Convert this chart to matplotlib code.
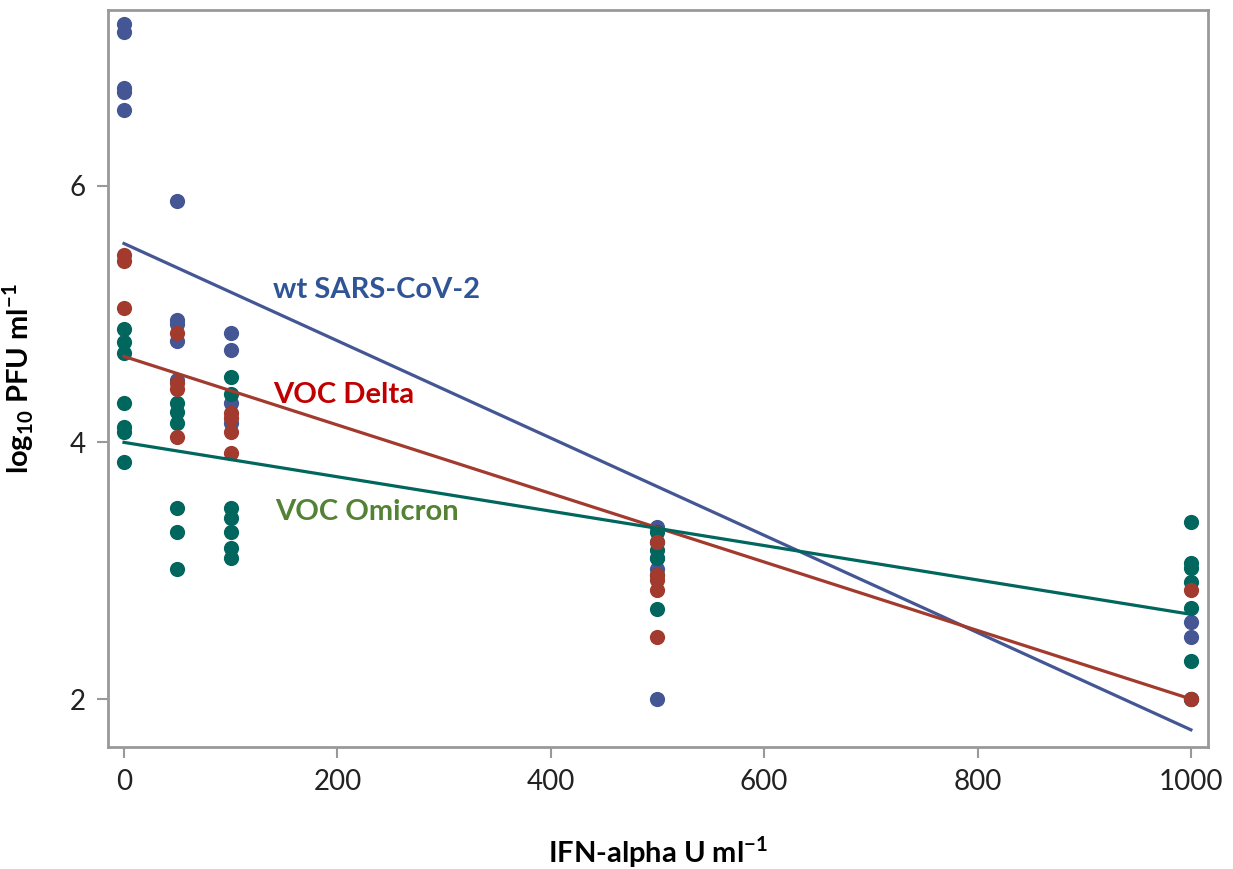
import matplotlib
matplotlib.use("Agg")
import matplotlib.pyplot as plt
import numpy as np

# ---- data ----
wt_x = [0, 0, 0, 0, 0, 50, 50, 50, 50, 50, 100, 100, 100, 100, 500, 500, 500, 500, 1000, 1000, 1000]
wt_y = [7.26, 7.20, 6.76, 6.73, 6.59, 5.88, 4.95, 4.92, 4.79, 4.49, 4.85, 4.72, 4.31, 4.15,
        3.34, 3.10, 3.01, 2.00, 2.60, 2.48, 2.00]

delta_x = [0, 0, 0, 50, 50, 50, 50, 100, 100, 100, 100, 500, 500, 500, 500, 500, 1000, 1000]
delta_y = [5.46, 5.41, 5.05, 4.85, 4.46, 4.42, 4.04, 4.23, 4.19, 4.08, 3.92,
           3.22, 2.97, 2.93, 2.85, 2.48, 2.85, 2.00]

omi_x = [0, 0, 0, 0, 0, 0, 0, 50, 50, 50, 50, 50, 50, 100, 100, 100, 100, 100, 100, 100,
         500, 500, 500, 500, 500, 500, 1000, 1000, 1000, 1000, 1000, 1000, 1000]
omi_y = [4.88, 4.78, 4.70, 4.31, 4.12, 4.08, 3.85, 4.31, 4.24, 4.15, 3.49, 3.30, 3.01,
         4.51, 4.38, 3.49, 3.41, 3.30, 3.18, 3.10,
         3.30, 3.22, 3.16, 3.10, 2.97, 2.70, 3.38, 3.06, 3.02, 2.91, 2.71, 2.30, 2.00]

# fitted lines (value at 0 and at 1000)
fit_x = [0, 1000]
wt_fit = [5.55, 1.76]
delta_fit = [4.67, 2.00]
omi_fit = [4.00, 2.66]

series_labels = ["wt SARS-CoV-2", "VOC Delta", "VOC Omicron"]
xticks = [0, 200, 400, 600, 800, 1000]
yticks = [2, 4, 6]

c_wt, c_delta, c_omi = "#445694", "#A23A2E", "#01665E"
label_colors = ["#2F5597", "#C00000", "#548235"]

plt.rcParams['font.family'] = ['Lato', 'DejaVu Sans']
plt.rcParams['mathtext.fontset'] = 'custom'
plt.rcParams['mathtext.rm'] = 'Lato'
plt.rcParams['mathtext.bf'] = 'Lato:bold'

fig = plt.figure(figsize=(12.33, 8.69), dpi=100)
ax = fig.add_axes([0.0876, 0.1404, 0.8921, 0.8481])

ms = 120
ax.scatter(wt_x, wt_y, s=ms, color=c_wt, zorder=3, linewidths=0)
ax.scatter(omi_x, omi_y, s=ms, color=c_omi, zorder=3, linewidths=0)
ax.scatter(delta_x, delta_y, s=ms, color=c_delta, zorder=3, linewidths=0)

ax.plot(fit_x, wt_fit, color=c_wt, lw=2.3, zorder=4)
ax.plot(fit_x, delta_fit, color=c_delta, lw=2.3, zorder=4)
ax.plot(fit_x, omi_fit, color=c_omi, lw=2.3, zorder=4)

ax.text(140, 5.19, series_labels[0], color=label_colors[0], fontsize=21, fontweight='bold', va='center')
ax.text(140, 4.37, series_labels[1], color=label_colors[1], fontsize=21, fontweight='bold', va='center')
ax.text(142, 3.46, series_labels[2], color=label_colors[2], fontsize=21, fontweight='bold', va='center')

ax.set_xlim(-15, 1016)
ax.set_ylim(1.626, 7.37)
ax.set_xticks(xticks)
ax.set_yticks(yticks)
ax.tick_params(axis='both', direction='out', length=8, width=1.5, color='#999999',
               labelsize=20, labelcolor='#222222', pad=8)
for sp in ax.spines.values():
    sp.set_color('#999999')
    sp.set_linewidth(2)

ax.set_xlabel(r"IFN-alpha U ml$^{\mathbf{-1}}$", fontsize=21, fontweight='bold', labelpad=28)
ax.set_ylabel(r"log$_{\mathbf{10}}$ PFU ml$^{\mathbf{-1}}$", fontsize=21, fontweight='bold', labelpad=24)

fig.savefig("out.png", dpi=100)
